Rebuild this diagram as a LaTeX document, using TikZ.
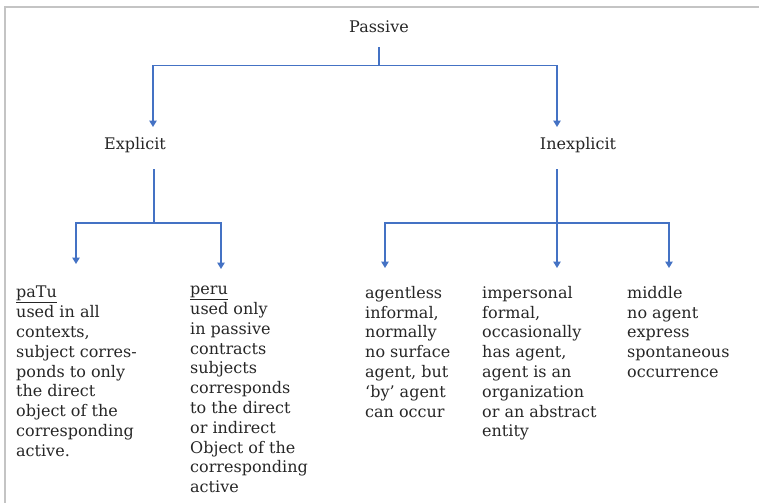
\documentclass[tikz,border=0pt]{standalone}
\usepackage{fontspec}
\setmainfont{DejaVu Serif}
\usetikzlibrary{arrows.meta,positioning}
\definecolor{linkblue}{HTML}{4472C4}
\definecolor{framegray}{HTML}{C4C4C4}

\begin{document}
\begin{tikzpicture}[x=1pt,y=-1pt,
    label/.style={inner sep=0pt,text=black!85,font=\fontsize{16}{19.8}\selectfont},
    desc/.style={label,align=left,anchor=north west},
    branch/.style={draw=linkblue,line width=1.3pt},
    down/.style={branch,-{Triangle[width=7.5pt,length=6.5pt]}}]
  \useasboundingbox (0,0) rectangle (759,503);
  \draw[framegray,line width=1.5pt] (759,7) -- (5,7) -- (5,503);
  \node[label] (passive) at (379,27) {Passive};
  \node[label] (explicit) at (135,145) {Explicit};
  \node[label] (inexplicit) at (578,145) {Inexplicit};
  \node[desc] (patu) at (16,286) {\underline{paTu}\\used in all\\contexts,\\subject corres-\\ponds to only\\the direct\\object of the\\corresponding\\active.};
  \node[desc] (peru) at (190,286) {\underline{peru}\\used only\\in passive\\contracts\\subjects\\corresponds\\to the direct\\or indirect\\Object of the\\corresponding\\active};
  \node[desc] (agentless) at (365,286) {agentless\\informal,\\normally\\no surface\\agent, but\\‘by’ agent\\can occur};
  \node[desc] (impersonal) at (482,286) {impersonal\\formal,\\occasionally\\has agent,\\agent is an\\organization\\or an abstract\\entity};
  \node[desc] (middle) at (627,286) {middle\\no agent\\express\\spontaneous\\occurrence};
  % branch points
  \coordinate (passive-out) at ([yshift=-14pt]passive.south);
  \coordinate (explicit-out) at (154,169);
  \coordinate (inexplicit-out) at (557,169);
  \coordinate (explicit-in) at (153,127);
  \coordinate (inexplicit-in) at (557,127);
  \coordinate (patu-in) at (76,264);
  \coordinate (peru-in) at (221,269);
  \coordinate (agentless-in) at (385,268);
  \coordinate (impersonal-in) at (557,268);
  \coordinate (middle-in) at (669,268);
  \draw[down] (passive-out) -- ++(0,18) -| (explicit-in);
  \draw[down] (passive-out) -- ++(0,18) -| (inexplicit-in);
  \draw[down] (explicit-out) -- ++(0,54) -| (patu-in);
  \draw[down] (explicit-out) -- ++(0,54) -| (peru-in);
  \draw[down] (inexplicit-out) -- ++(0,54) -| (agentless-in);
  \draw[down] (inexplicit-out) -- (impersonal-in);
  \draw[down] (inexplicit-out) -- ++(0,54) -| (middle-in);
\end{tikzpicture}
\end{document}
